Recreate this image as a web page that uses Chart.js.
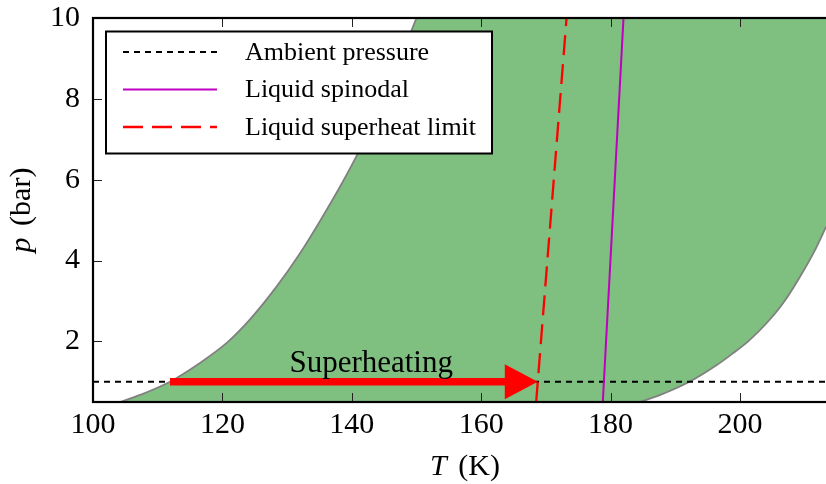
<!DOCTYPE html>
<html>
<head>
<meta charset="utf-8">
<script src="https://cdn.jsdelivr.net/npm/chart.js@4.4.0/dist/chart.umd.min.js"></script>
<style>
  html, body { margin: 0; padding: 0; overflow: hidden; background: #fff; }
  canvas { display: block; }
</style>
</head>
<body>
<canvas id="chart" width="840" height="484"></canvas>
<script>
const FONT = "'Liberation Serif', 'Times New Roman', serif";

// boundaries of the metastable band, T in K and p in bar
const leftT = [104.2, 108.0, 111.9, 116.3, 120.8, 124.3, 128.4, 132.0, 135.1, 138.2, 141.2, 145.6, 150.0];
const leftP = [0.5, 0.72, 1.0, 1.44, 1.98, 2.55, 3.36, 4.18, 4.98, 5.83, 6.73, 8.25, 10.0];
const rightT = [184.5, 187.6, 192.2, 196.3, 198.8, 201.4, 204.0, 206.6, 209.1, 211.7, 213.3];
const rightP = [0.5, 0.67, 1.0, 1.40, 1.69, 2.02, 2.43, 2.93, 3.55, 4.29, 4.83];

const ambientP = 1;
const spinodalT = [178.8, 182.0];
const spinodalP = [0.5, 10];
const superheatT = [168.5, 173.2];
const superheatP = [0.5, 10];

const arrowFrom = [111.9, 1];
const arrowTo = [168.75, 1];
const arrowText = 'Superheating';
const arrowTextAt = [143, 1.25];

const xRange = [100, 215];
const yRange = [0.5, 10];
const xTicks = [100, 120, 140, 160, 180, 200];
const yTicks = [2, 4, 6, 8, 10];

const pts = (xs, ys) => xs.map((x, i) => ({ x: x, y: ys[i] }));

// green band between the two curves, drawn from the curve elements themselves
const bandFill = {
  id: 'bandFill',
  beforeDatasetsDraw(chart) {
    const { ctx, chartArea: a, scales: { x, y } } = chart;
    const left = chart.getDatasetMeta(0).dataset;
    const right = chart.getDatasetMeta(1).dataset;
    left.updateControlPoints(a, 'x');
    right.updateControlPoints(a, 'x');
    const xr = x.getPixelForValue(xRange[1]);
    ctx.save();
    ctx.beginPath();
    ctx.rect(a.left, a.top, a.width, a.height);
    ctx.clip();
    ctx.beginPath();
    left.path(ctx);
    ctx.lineTo(xr, y.getPixelForValue(yRange[1]));
    ctx.lineTo(xr, y.getPixelForValue(yRange[0]));
    ctx.closePath();
    right.path(ctx);
    ctx.lineTo(xr, y.getPixelForValue(yRange[0]));
    ctx.closePath();
    ctx.fillStyle = 'rgba(0, 128, 0, 0.5)';
    ctx.fill('evenodd');
    ctx.restore();
  }
};

// arrow, its label, frame with inward ticks, legend box and axis titles
const decorations = {
  id: 'decorations',
  afterDatasetsDraw(chart) {
    const { ctx, chartArea: a, scales: { x, y } } = chart;

    // superheating arrow
    const x0 = x.getPixelForValue(arrowFrom[0]);
    const x1 = x.getPixelForValue(arrowTo[0]);
    const ya = y.getPixelForValue(arrowTo[1]);
    const headLen = 33, headHalf = 17.5, shaftHalf = 3.8;
    ctx.save();
    ctx.fillStyle = '#ff0000';
    ctx.beginPath();
    ctx.moveTo(x0, ya - shaftHalf);
    ctx.lineTo(x1 - headLen, ya - shaftHalf);
    ctx.lineTo(x1 - headLen, ya - headHalf);
    ctx.lineTo(x1, ya);
    ctx.lineTo(x1 - headLen, ya + headHalf);
    ctx.lineTo(x1 - headLen, ya + shaftHalf);
    ctx.lineTo(x0, ya + shaftHalf);
    ctx.closePath();
    ctx.fill();

    ctx.fillStyle = '#000';
    ctx.font = '31px ' + FONT;
    ctx.textAlign = 'center';
    ctx.textBaseline = 'alphabetic';
    ctx.fillText(arrowText, x.getPixelForValue(arrowTextAt[0]), y.getPixelForValue(arrowTextAt[1]));

    // inward ticks on all four sides
    ctx.strokeStyle = '#222';
    ctx.lineWidth = 1;
    ctx.beginPath();
    x.ticks.forEach(t => {
      const px = Math.round(x.getPixelForValue(t.value)) + 0.5;
      ctx.moveTo(px, a.bottom); ctx.lineTo(px, a.bottom - 9);
      ctx.moveTo(px, a.top); ctx.lineTo(px, a.top + 9);
    });
    y.ticks.forEach(t => {
      const py = Math.round(y.getPixelForValue(t.value)) + 0.5;
      ctx.moveTo(a.left, py); ctx.lineTo(a.left + 9, py);
      ctx.moveTo(a.right, py); ctx.lineTo(a.right - 9, py);
    });
    ctx.stroke();

    ctx.strokeStyle = '#000';
    ctx.lineWidth = 2.2;
    ctx.strokeRect(a.left, a.top, a.width, a.height);

    // legend
    const items = chart.data.datasets.filter(d => d.label);
    const bx = a.left + 13, by = a.top + 13.5, bw = 386, bh = 122;
    ctx.fillStyle = '#fff';
    ctx.fillRect(bx, by, bw, bh);
    ctx.lineWidth = 2;
    ctx.strokeRect(bx, by, bw, bh);
    ctx.font = '26px ' + FONT;
    ctx.textAlign = 'left';
    ctx.textBaseline = 'middle';
    items.forEach((d, i) => {
      const ry = by + 20.5 + i * 37.5;
      ctx.strokeStyle = d.borderColor;
      ctx.lineWidth = d.borderWidth;
      ctx.setLineDash(d.borderDash || []);
      ctx.beginPath();
      ctx.moveTo(bx + 17, ry);
      ctx.lineTo(bx + 111, ry);
      ctx.stroke();
      ctx.setLineDash([]);
      ctx.fillStyle = '#000';
      ctx.fillText(d.label, bx + 139, ry + 1);
    });

    // axis titles with italic symbols
    const drawTitle = (sym, rest, cx, cy, rot) => {
      ctx.save();
      ctx.translate(cx, cy);
      ctx.rotate(rot);
      ctx.textBaseline = 'alphabetic';
      ctx.textAlign = 'left';
      ctx.font = 'italic 30px ' + FONT;
      const w1 = ctx.measureText(sym).width + 4;
      ctx.font = '30px ' + FONT;
      const w2 = ctx.measureText(rest).width;
      const start = -(w1 + w2) / 2;
      ctx.font = 'italic 30px ' + FONT;
      ctx.fillText(sym, start, 0);
      ctx.font = '30px ' + FONT;
      ctx.fillText(rest, start + w1, 0);
      ctx.restore();
    };
    ctx.fillStyle = '#000';
    drawTitle('T', ' (K)', (a.left + a.right) / 2, 475, 0);
    drawTitle('p', ' (bar)', 30, (a.top + a.bottom) / 2, -Math.PI / 2);
    ctx.restore();
  }
};

const line = (label, data, color, width, dash, order) => ({
  label: label,
  data: data,
  borderColor: color,
  borderWidth: width,
  borderDash: dash,
  pointRadius: 0,
  fill: false,
  order: order
});

const leftCurve = line(undefined, pts(leftT, leftP), '#808080', 1.8, [], 5);
leftCurve.cubicInterpolationMode = 'monotone';
const rightCurve = line(undefined, pts(rightT, rightP), '#808080', 1.8, [], 5);
rightCurve.cubicInterpolationMode = 'monotone';

new Chart(document.getElementById('chart'), {
  type: 'line',
  data: {
    datasets: [
      leftCurve,
      rightCurve,
      line('Ambient pressure', pts(xRange, [ambientP, ambientP]), '#000000', 2, [6, 5], 3),
      line('Liquid spinodal', pts(spinodalT, spinodalP), '#bf00bf', 2, [], 2),
      line('Liquid superheat limit', pts(superheatT, superheatP), '#ff0000', 2.3, [20, 9], 1)
    ]
  },
  options: {
    responsive: false,
    animation: false,
    devicePixelRatio: 1,
    layout: { padding: { top: 18, right: 3, left: 0, bottom: 0 } },
    plugins: { legend: { display: false }, tooltip: { enabled: false } },
    scales: {
      x: {
        type: 'linear',
        min: xRange[0],
        max: xRange[1],
        afterBuildTicks: s => { s.ticks = xTicks.map(v => ({ value: v })); },
        afterFit: s => { s.height = 82; s.paddingLeft = 0; s.paddingRight = 0; },
        grid: { display: false, drawTicks: false },
        border: { display: false },
        ticks: {
          font: { family: FONT, size: 30, lineHeight: 1 },
          color: '#000',
          padding: 8,
          maxRotation: 0,
          autoSkip: false,
          callback: v => String(v)
        }
      },
      y: {
        type: 'linear',
        min: yRange[0],
        max: yRange[1],
        afterBuildTicks: s => { s.ticks = yTicks.map(v => ({ value: v })); },
        afterFit: s => { s.width = 93; s.paddingTop = 0; s.paddingBottom = 0; },
        grid: { display: false, drawTicks: false },
        border: { display: false },
        ticks: {
          font: { family: FONT, size: 30, lineHeight: 1 },
          color: '#000',
          padding: 13,
          autoSkip: false,
          callback: v => String(v)
        }
      }
    }
  },
  plugins: [bandFill, decorations]
});
</script>
</body>
</html>
